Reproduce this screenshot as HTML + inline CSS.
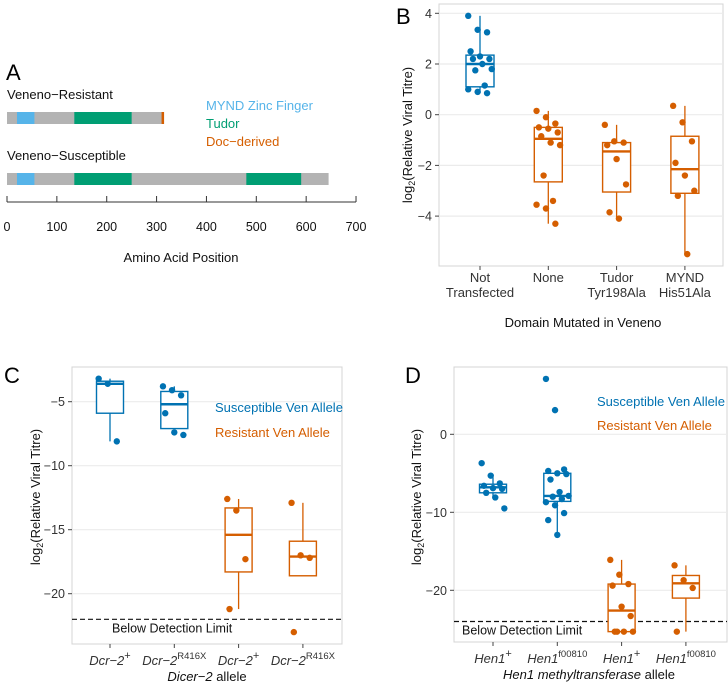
<!DOCTYPE html>
<html><head><meta charset="utf-8">
<style>
html,body{margin:0;padding:0;background:#fff;}
svg{display:block;font-family:"Liberation Sans",Arial,sans-serif;}
</style></head>
<body>
<svg id="fig" width="728" height="685" viewBox="0 0 728 685" xmlns="http://www.w3.org/2000/svg">
<g id="panelA">
<text x="6" y="80" font-size="22">A</text>
<text x="7" y="99" font-size="13" fill="#111">Veneno−Resistant</text>
<text x="7" y="160" font-size="13" fill="#111">Veneno−Susceptible</text>
<text x="206" y="110" font-size="13" fill="#56B4E9">MYND Zinc Finger</text>
<text x="206" y="128" font-size="13" fill="#009E73">Tudor</text>
<text x="206" y="146" font-size="13" fill="#D55E00">Doc−derived</text>
<g id="aBars"></g>
<line x1="7" x2="356" y1="202" y2="202" stroke="#333" stroke-width="1"/>
<g id="aTicks"></g>
<text x="181" y="262" font-size="13" text-anchor="middle" fill="#111">Amino Acid Position</text>
</g>
<g id="panelB"></g>
<g id="panelC"></g>
<g id="panelD"></g>
</svg>
<script>
// ---------- Panel A data ----------
const aTickVals = [0,100,200,300,400,500,600,700];
const aProteins = ["resistant","susceptible"];
const aLengths = [315, 645];
const aDomainProtein = [0,0,0,1,1,1];
const aDomainStart = [20,135,310,20,135,480];
const aDomainEnd = [55,250,315,55,250,590];
const aDomainType = ["mynd","tudor","doc","mynd","tudor","tudor"];

// ---------- Panel B data ----------
const bCats = ["Not|Transfected","None","Tudor|Tyr198Ala","MYND|His51Ala"];
const bGroup = ["s","r","r","r"];
const bTicks = [-4,-2,0,2,4];
const bQ1 = [1.1,-2.65,-3.05,-3.1];
const bMed = [2.0,-0.95,-1.45,-2.15];
const bQ3 = [2.35,-0.5,-1.1,-0.85];
const bLo = [0.85,-4.3,-4.1,-5.5];
const bHi = [3.9,0.15,-0.4,0.35];
const bPts0 = [3.9,3.35,3.25,2.5,2.3,2.2,2.2,2.0,1.8,1.75,1.15,1.0,0.9,0.85];
const bPts1 = [0.15,-0.1,-0.35,-0.5,-0.55,-0.7,-0.85,-1.1,-1.2,-2.4,-3.4,-3.55,-3.7,-4.3];
const bPts2 = [-0.4,-1.05,-1.1,-1.2,-1.75,-2.75,-3.85,-4.1];
const bPts3 = [0.35,-0.3,-1.05,-1.9,-2.4,-3.0,-3.2,-5.5];

// ---------- Panel C data ----------
const cCats = ["Dcr−2|+","Dcr−2|R416X","Dcr−2|+","Dcr−2|R416X"];
const cGroup = ["s","s","r","r"];
const cTicks = [-20,-15,-10,-5];
const cQ1 = [-5.9,-7.1,-18.3,-18.6];
const cMed = [-3.6,-5.2,-15.4,-17.1];
const cQ3 = [-3.4,-4.2,-13.3,-15.9];
const cLo = [-8.1,-7.1,-21.2,-18.6];
const cHi = [-3.2,-3.8,-12.6,-12.9];
const cPts0 = [-3.2,-3.6,-8.1];
const cPts1 = [-3.8,-4.1,-4.5,-5.9,-7.4,-7.6];
const cPts2 = [-12.6,-13.5,-17.3,-21.2];
const cPts3 = [-12.9,-17.0,-17.2,-23.0];
const cLimit = -22;

// ---------- Panel D data ----------
const dCats = ["Hen1|+","Hen1|f00810","Hen1|+","Hen1|f00810"];
const dGroup = ["s","s","r","r"];
const dTicks = [-20,-10,0];
const dQ1 = [-7.5,-8.6,-25.3,-21.0];
const dMed = [-6.8,-7.9,-22.6,-19.1];
const dQ3 = [-6.4,-5.0,-19.2,-18.1];
const dLo = [-8.1,-12.9,-25.3,-25.3];
const dHi = [-5.5,-5.0,-16.1,-16.8];
const dPts0 = [-3.7,-5.3,-6.3,-6.6,-6.9,-7.0,-7.5,-8.1,-9.5];
const dPts1 = [7.1,3.1,-4.5,-4.7,-5.0,-5.1,-5.8,-7.4,-7.9,-8.0,-8.3,-8.7,-9.1,-10.1,-11.0,-12.9];
const dPts2 = [-16.1,-18.0,-19.2,-19.4,-22.1,-23.3,-25.3,-25.3,-25.3,-25.3];
const dPts3 = [-16.8,-18.7,-19.7,-25.3];
const dLimit = -24;

const NS = "http://www.w3.org/2000/svg";
const COL = {s:"#0072B2", r:"#D55E00", mynd:"#56B4E9", tudor:"#009E73", doc:"#D55E00"};
function mk(parent, tag, attrs){
  const e = document.createElementNS(NS, tag);
  for (const k in attrs) e.setAttribute(k, attrs[k]);
  parent.appendChild(e);
  return e;
}

// ---------- Draw A ----------
(function(){
  const xA = v => 7 + v*0.4986;
  const rowY = [112, 173];
  const bars = document.getElementById("aBars");
  aProteins.forEach((p,i)=>{
    const r = mk(bars,"rect",{x:xA(0),y:rowY[i],width:xA(aLengths[i])-xA(0),height:12,fill:"#b3b3b3"});
    
    
  });
  aDomainStart.forEach((s,i)=>{
    const r = mk(bars,"rect",{x:xA(s),y:rowY[aDomainProtein[i]],width:xA(aDomainEnd[i])-xA(s),height:12,fill:COL[aDomainType[i]]});
    
    
  });
  const tk = document.getElementById("aTicks");
  aTickVals.forEach(v=>{
    const l = mk(tk,"line",{x1:xA(v),x2:xA(v),y1:196,y2:202,stroke:"#333"});
    
    
    const t = mk(tk,"text",{x:xA(v),y:231,"font-size":12.5,"text-anchor":"middle",fill:"#111"});
    t.textContent = v;
    
    
  });
})();

// ---------- Generic box plot ----------
function boxPanel(g, cfg){
  const {left,right,top,bottom,y0,v0,ppu,catX,bw} = cfg;
  const yS = v => y0 - (v - v0)*ppu;
  const frame = mk(g,"rect",{x:left,y:top,width:right-left,height:bottom-top,fill:"#fff",stroke:"#d4d4d4","stroke-width":1});
  
  
  cfg.ticks.forEach(v=>{
    const gl = mk(g,"line",{x1:left,x2:right,y1:yS(v),y2:yS(v),stroke:"#ebebeb","stroke-width":1.2});
    
    
    const tm = mk(g,"line",{x1:left-4,x2:left,y1:yS(v),y2:yS(v),stroke:"#444"});
    
    
    const t = mk(g,"text",{x:left-7,y:yS(v)+4.5,"font-size":12.5,"text-anchor":"end",fill:"#333"});
    t.textContent = (v<0?"−"+Math.abs(v):v);
    
    
  });
  if (cfg.limit!==undefined){
    const dl = mk(g,"line",{x1:left,x2:right,y1:yS(cfg.limit),y2:yS(cfg.limit),stroke:"#111","stroke-width":1.2,"stroke-dasharray":"5,3"});
    
    
    const lt = mk(g,"text",{x:cfg.limitX,y:yS(cfg.limit)+13,"font-size":12.5,fill:"#111"});
    lt.textContent = "Below Detection Limit";
    
    
  }
  cfg.cats.forEach((c,i)=>{
    const x = catX(i);
    const color = COL[cfg.group[i]];
    const tm = mk(g,"line",{x1:x,x2:x,y1:bottom,y2:bottom+4,stroke:"#444"});
    
    
    const wh = mk(g,"line",{x1:x,x2:x,y1:yS(cfg.hi[i]),y2:yS(cfg.lo[i]),stroke:color,"stroke-width":1.3});
    
    
    const bx = mk(g,"rect",{x:x-bw/2,y:yS(cfg.q3[i]),width:bw,height:yS(cfg.q1[i])-yS(cfg.q3[i]),fill:"#fff",stroke:color,"stroke-width":1.4});
    
    
    const md = mk(g,"line",{x1:x-bw/2,x2:x+bw/2,y1:yS(cfg.med[i]),y2:yS(cfg.med[i]),stroke:color,"stroke-width":2.4});
    
    
    const pts = cfg.pts[i];
    pts.forEach((v,j)=>{
      const off = ((j*37)%11 - 5)/5 * bw*0.42;
      const p = mk(g,"circle",{cx:x+off,cy:yS(v),r:3.2,fill:color});
      
      
    });
    const parts = c.split("|");
    const t = mk(g,"text",{x:x,y:cfg.catY,"font-size":13,"text-anchor":"middle",fill:"#333"});
    
    
    if (cfg.catMode==="two"){
      t.textContent = parts[0];
      const t2 = mk(g,"text",{x:x,y:cfg.catY+15,"font-size":13,"text-anchor":"middle",fill:"#333"});
      t2.textContent = parts[1]||"";
      
      
    } else {
      const s1 = mk(t,"tspan",{"font-style":"italic"}); s1.textContent = parts[0];
      const s2 = mk(t,"tspan",{dy:-6,"font-size":parts[1]==="+"?11:9.5}); s2.textContent = parts[1];
    }
  });
}
function yTitle(g,x,y){
  const t = mk(g,"text",{transform:`translate(${x},${y}) rotate(-90)`,"font-size":13,"text-anchor":"middle",fill:"#111"});
  
  
  const a = mk(t,"tspan",{}); a.textContent="log";
  const b = mk(t,"tspan",{dy:3,"font-size":9}); b.textContent="2";
  const c = mk(t,"tspan",{dy:-3}); c.textContent="(Relative Viral Titre)";
}
function label(g,txt,x,y,size,color,name,anchor,style){
  const t = mk(g,"text",{x:x,y:y,"font-size":size,fill:color,"text-anchor":anchor||"start"});
  if (style) t.setAttribute("font-style",style);
  t.textContent = txt;
  
  
  return t;
}

// B
(function(){
  const g = document.getElementById("panelB");
  boxPanel(g,{left:439,right:723,top:4,bottom:266,y0:114.7,v0:0,ppu:25.35,catX:i=>480+i*68.3,bw:28,
    ticks:bTicks,cats:bCats,group:bGroup,q1:bQ1,med:bMed,q3:bQ3,lo:bLo,hi:bHi,pts:[bPts0,bPts1,bPts2,bPts3],catY:282,catMode:"two"});
  yTitle(g,412,135);
  label(g,"B",396,24,22,"#000","panel-b-label");
  label(g,"Domain Mutated in Veneno",583,327,13,"#111","b-x-axis-title","middle");
})();
// C
(function(){
  const g = document.getElementById("panelC");
  boxPanel(g,{left:72,right:342,top:367,bottom:644,y0:401.7,v0:-5,ppu:12.8,catX:i=>110+i*64.3,bw:27,
    ticks:cTicks,cats:cCats,group:cGroup,q1:cQ1,med:cMed,q3:cQ3,lo:cLo,hi:cHi,pts:[cPts0,cPts1,cPts2,cPts3],catY:665,catMode:"sup",limit:cLimit,limitX:112});
  yTitle(g,40,497);
  label(g,"C",4,383,22,"#000","panel-c-label");
  label(g,"Susceptible Ven Allele",215,412,13,"#0072B2","legend-susceptible");
  label(g,"Resistant Ven Allele",215,437,13,"#D55E00","legend-resistant");
  const t = label(g,"",207,681,13,"#111","c-x-axis-title","middle");
  const a = mk(t,"tspan",{"font-style":"italic"}); a.textContent="Dicer−2";
  const b = mk(t,"tspan",{}); b.textContent=" allele";
})();
// D
(function(){
  const g = document.getElementById("panelD");
  boxPanel(g,{left:454,right:727,top:367,bottom:642,y0:434.3,v0:0,ppu:7.8,catX:i=>493+i*64.3,bw:27,
    ticks:dTicks,cats:dCats,group:dGroup,q1:dQ1,med:dMed,q3:dQ3,lo:dLo,hi:dHi,pts:[dPts0,dPts1,dPts2,dPts3],catY:663,catMode:"sup",limit:dLimit,limitX:462});
  yTitle(g,421,497);
  label(g,"D",405,383,22,"#000","panel-d-label");
  label(g,"Susceptible Ven Allele",597,406,13,"#0072B2","legend-susceptible");
  label(g,"Resistant Ven Allele",597,430,13,"#D55E00","legend-resistant");
  const t = label(g,"",589,679,13,"#111","d-x-axis-title","middle");
  const a = mk(t,"tspan",{"font-style":"italic"}); a.textContent="Hen1 methyltransferase";
  const b = mk(t,"tspan",{}); b.textContent=" allele";
})();
</script>
</body></html>
